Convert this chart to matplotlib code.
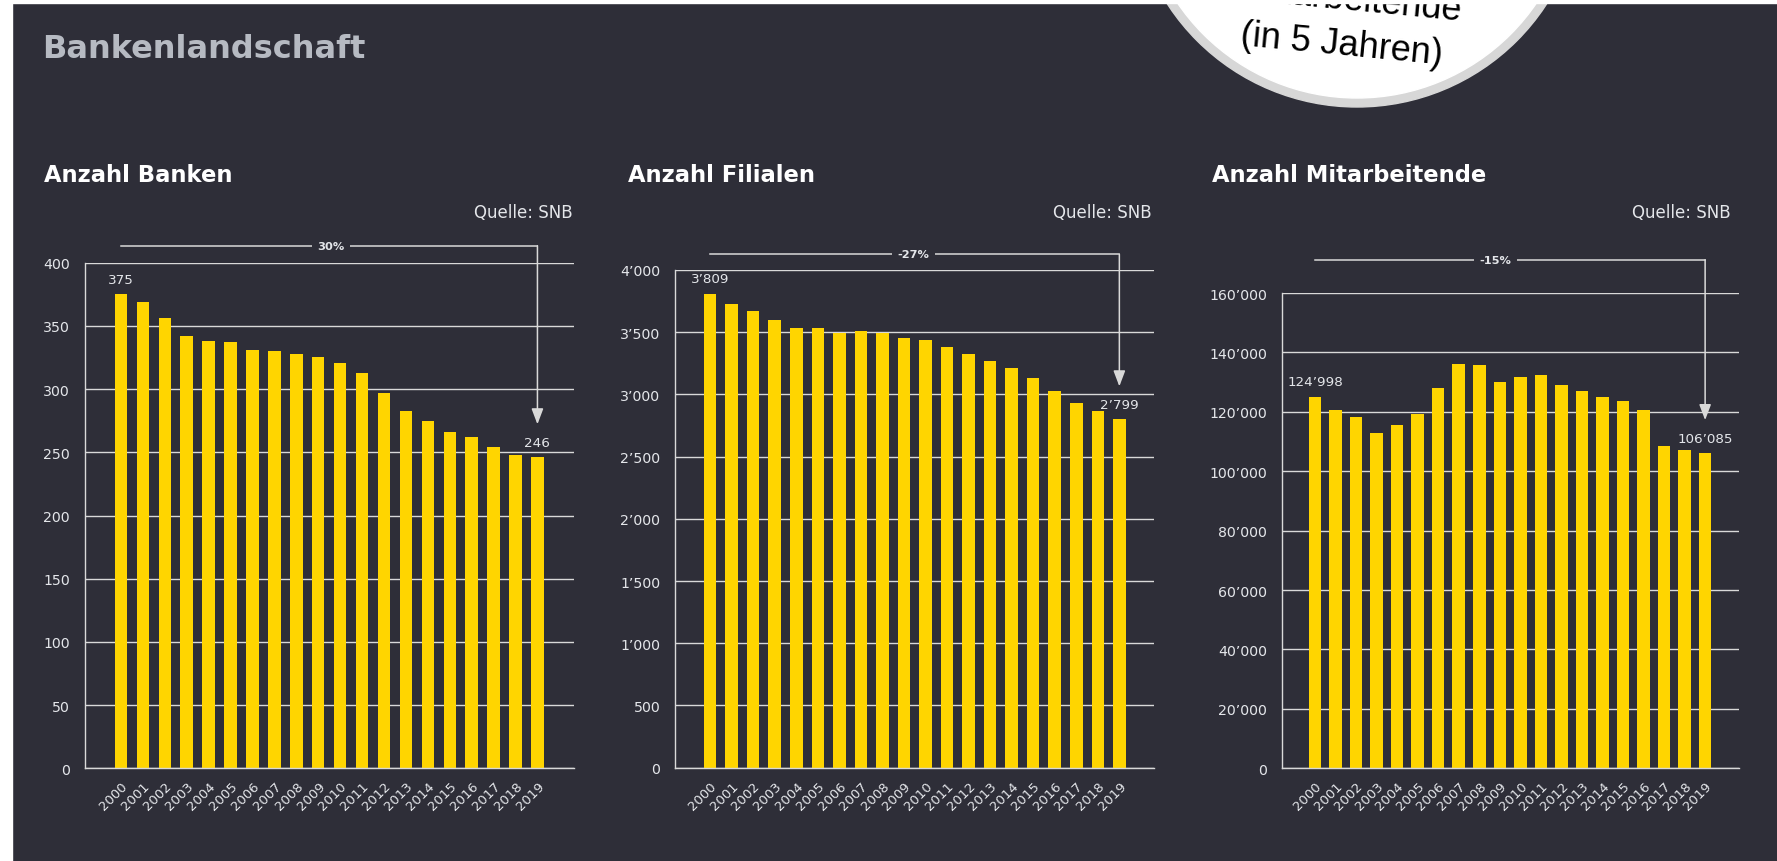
import matplotlib.pyplot as plt
import matplotlib.patches as mpatches
from matplotlib.ticker import FuncFormatter, MultipleLocator

# data
years = ["2000", "2001", "2002", "2003", "2004", "2005", "2006", "2007", "2008", "2009",
         "2010", "2011", "2012", "2013", "2014", "2015", "2016", "2017", "2018", "2019"]
banken = [375, 369, 356, 342, 338, 337, 331, 330, 328, 325,
          321, 313, 297, 283, 275, 266, 262, 254, 248, 246]
filialen = [3809, 3730, 3674, 3602, 3532, 3532, 3497, 3511, 3492, 3452,
            3441, 3382, 3326, 3267, 3209, 3128, 3027, 2933, 2864, 2799]
mitarbeitende = [124998, 120750, 118300, 112900, 115400, 119400, 128000, 136200, 135650, 129900,
                 131800, 132300, 128900, 127000, 125000, 123650, 120750, 108650, 107100, 106085]
panel_titles = ["Anzahl Banken", "Anzahl Filialen", "Anzahl Mitarbeitende"]
changes = ["30%", "-27%", "-15%"]
source = "Quelle: SNB"

W, H = 1777, 862
bg = "#2e2e38"
bar_c = "#ffd500"
line_c = "#d9d9d9"
text_c = "#e4e6ea"


def fx(px):
    return px / W


def fy(py):
    return 1 - py / H


def fmt_num(v):
    return f"{int(round(v)):,}".replace(",", "\u2019")


fig = plt.figure(figsize=(W / 100, H / 100), dpi=100, facecolor=bg)

# white page edges
fig.patches.append(mpatches.Rectangle((0, 0), fx(11.5), 1, transform=fig.transFigure,
                                      color="white", zorder=10))
fig.patches.append(mpatches.Rectangle((0, fy(4)), 1, 4 / H, transform=fig.transFigure,
                                      color="white", zorder=10))

# sticker circle, top right
fig.patches.append(mpatches.Ellipse((fx(1357), fy(-118)), 2 * 226 / W, 2 * 226 / H,
                                    transform=fig.transFigure, color="#d7d7d7", zorder=5))
fig.patches.append(mpatches.Ellipse((fx(1357), fy(-118)), 2 * 217 / W, 2 * 217 / H,
                                    transform=fig.transFigure, color="white", zorder=6))
fig.text(fx(1353), fy(1), "Mitarbeitende", rotation=-5.5, rotation_mode="anchor",
         ha="center", va="center", fontsize=26, family="Liberation Sans", color="black", zorder=7)
fig.text(fx(1342), fy(45), "(in 5 Jahren)", rotation=-5.5, rotation_mode="anchor",
         ha="center", va="center", fontsize=26, family="Liberation Sans", color="black", zorder=7)

fig.text(fx(42), fy(58), "Bankenlandschaft", fontsize=23, fontweight="bold",
         color="#b6bac2", va="baseline", ha="left")

panels = [
    # values, axes box in px (left, right, bottom, top), ymax, step, xlim, bar width,
    # bracket height (axes fraction), change label x, title x, source x
    (banken, (84.6, 573.6, 769.3, 263.7), 400, 50, (-1.66, 20.65), 0.57, 1.0336, 9.58, 43.6, 572.9),
    (filialen, (675, 1153.6, 768.6, 271), 4000, 500, (-1.63, 20.59), 0.58, 1.0315, 9.45, 627.9, 1151.8),
    (mitarbeitende, (1281.7, 1738.6, 769.3, 294), 160000, 20000, (-1.62, 20.63), 0.61, 1.070, 8.78,
     1212.4, 1731),
]

for i, (vals, box, ymax, step, xlim, bw, bfrac, cx, tx, sx) in enumerate(panels):
    l, r, b, t = box
    ax = fig.add_axes([fx(l), fy(b), (r - l) / W, (b - t) / H])
    ax.set_facecolor(bg)
    x = list(range(len(vals)))
    ax.bar(x, vals, width=bw, color=bar_c, zorder=2)
    ax.set_xlim(*xlim)
    ax.set_ylim(0, ymax)
    ax.yaxis.set_major_locator(MultipleLocator(step))
    ax.yaxis.set_major_formatter(FuncFormatter(lambda v, p: fmt_num(v)))
    ax.set_axisbelow(True)
    ax.yaxis.grid(True, color=line_c, lw=1.0)
    for s in ["top", "right"]:
        ax.spines[s].set_visible(False)
    for s in ["left", "bottom"]:
        ax.spines[s].set_color(line_c)
        ax.spines[s].set_linewidth(1.0)
    ax.set_xticks(x)
    ax.set_xticklabels(years, rotation=45, ha="right", va="top", rotation_mode="anchor",
                       fontsize=9.5)
    ax.tick_params(axis="x", length=0, pad=8, labelcolor=text_c)
    ax.tick_params(axis="y", length=0, pad=10.5, labelcolor=text_c, labelsize=10.2)

    # first / last value labels
    ax.annotate(fmt_num(vals[0]), xy=(0, vals[0]), xytext=(0, 10.8), textcoords="offset points",
                ha="center", va="center", fontsize=9.7, color=text_c)
    ax.annotate(fmt_num(vals[-1]), xy=(x[-1], vals[-1]), xytext=(0, 10.8), textcoords="offset points",
                ha="center", va="center", fontsize=9.7, color=text_c)

    # change bracket
    by = ymax * bfrac
    ax.plot([0, x[-1]], [by, by], color=line_c, lw=1.1, clip_on=False, zorder=3)
    ax.annotate("", xy=(x[-1], vals[-1]), xytext=(x[-1], by), annotation_clip=False,
                arrowprops=dict(arrowstyle="-|>,head_length=0.95,head_width=0.36",
                                mutation_scale=10, color=line_c, lw=1.1,
                                shrinkA=0, shrinkB=23.8))
    ax.text(cx, by, changes[i], ha="center", va="center", fontsize=8.2, fontweight="bold",
            color=text_c, zorder=4, clip_on=False,
            bbox=dict(boxstyle="square,pad=0.5", fc=bg, ec="none"))

    fig.text(fx(tx), fy(182.3), panel_titles[i], fontsize=16.3, fontweight="bold",
             color="white", ha="left", va="baseline")
    fig.text(fx(sx), fy(217.7), source, fontsize=12, color=text_c, ha="right", va="baseline")

fig.savefig("out.png", dpi=100, facecolor=fig.get_facecolor())
